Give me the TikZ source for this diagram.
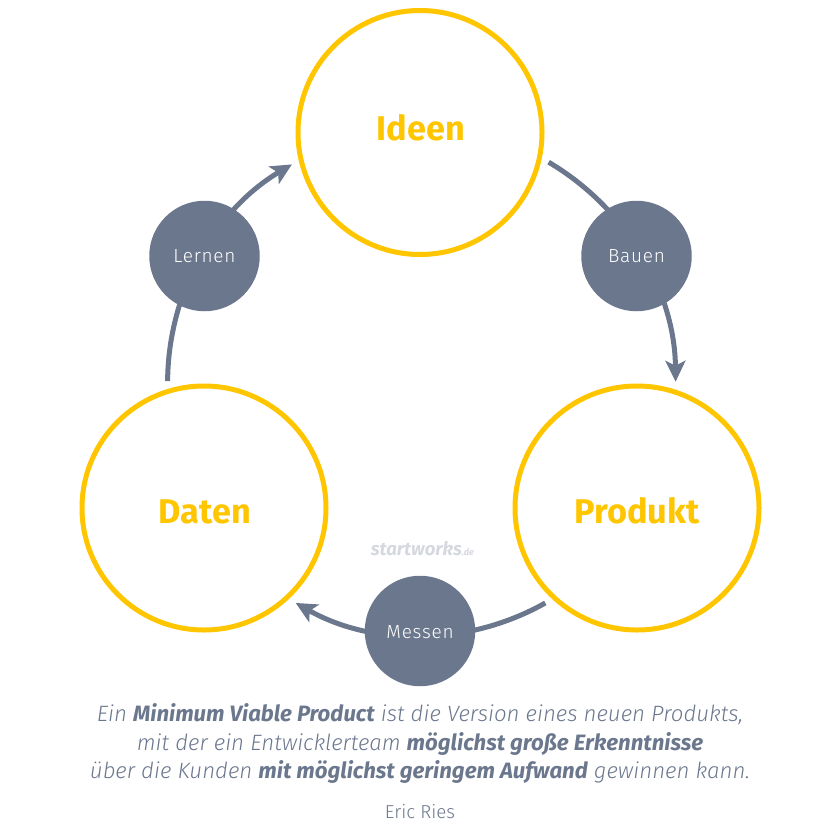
\documentclass[tikz,border=0pt]{standalone}
\usepackage{fontspec}
\setmainfont{Fira Sans}
\newfontfamily\lightfont{Fira Sans Light}[ItalicFont={Fira Sans Light Italic},BoldFont={Fira Sans SemiBold},BoldItalicFont={Fira Sans Bold Italic}]
\newfontfamily\spacedfont{Fira Sans Light}[LetterSpace=4]
\usetikzlibrary{arrows.meta}
\definecolor{gold}{HTML}{FFC600}
\definecolor{slate}{HTML}{6B778D}
\definecolor{mark}{HTML}{D5D8DF}
\tikzset{
  bigstate/.style={circle,draw=gold,line width=5pt,fill=white,minimum size=244pt,outer sep=10pt,inner sep=0pt,text=gold,font=\fontsize{34.3}{40}\selectfont\bfseries},
  smallstep/.style={circle,fill=slate,minimum size=110.5pt,inner sep=0pt,text=white,font=\fontsize{19}{22}\spacedfont},
  flow/.style={draw=slate,line width=5pt,-{Stealth[length=21pt,width=20pt,inset=5pt]},bend left=29.5,looseness=.91},
  quote/.style={text=slate,align=center,font=\fontsize{22.2}{28.5}\lightfont\itshape},
}
\begin{document}
\begin{tikzpicture}[x=1pt,y=-1pt]
\useasboundingbox (0,0) rectangle (840,840);

\node[bigstate] (ideen) at (420,132.5) {\hspace{2pt}\raisebox{10pt}{Ideen}};
\node[bigstate] (produkt) at (637,508) {\rule{0pt}{32pt}Produkt};
\node[bigstate] (daten) at (204,508) {\hspace{2pt}\rule{0pt}{32pt}Daten};

\draw[flow] (ideen.-13.5) to (produkt.73.5);
\draw[flow] (produkt.-134) to (daten.-46);
\draw[flow] (daten.106.5) to (ideen.-166);

\node[smallstep] (bauen) at (636.5,256) {Bauen};
\node[smallstep] (messen) at (420,631) {\rule{0pt}{16pt}Messen};
\node[smallstep] (lernen) at (204.5,256) {Lernen};

\node[text=mark,font=\fontsize{18.5}{24}\selectfont\bfseries\itshape] (logo) at (422.5,549) {startworks\fontsize{9}{10}\selectfont.de};
\node[quote] (zitat) at (420,743.5) {Ein \textbf{Minimum Viable Product} ist die Version eines neuen Produkts,\\
mit der ein Entwicklerteam \textbf{möglichst große Erkenntnisse}\\
über die Kunden \textbf{mit möglichst geringem Aufwand} gewinnen kann.};
\node[text=slate,font=\fontsize{18.7}{20}\lightfont] (autor) at (420,812) {Eric Ries};
\end{tikzpicture}
\end{document}
